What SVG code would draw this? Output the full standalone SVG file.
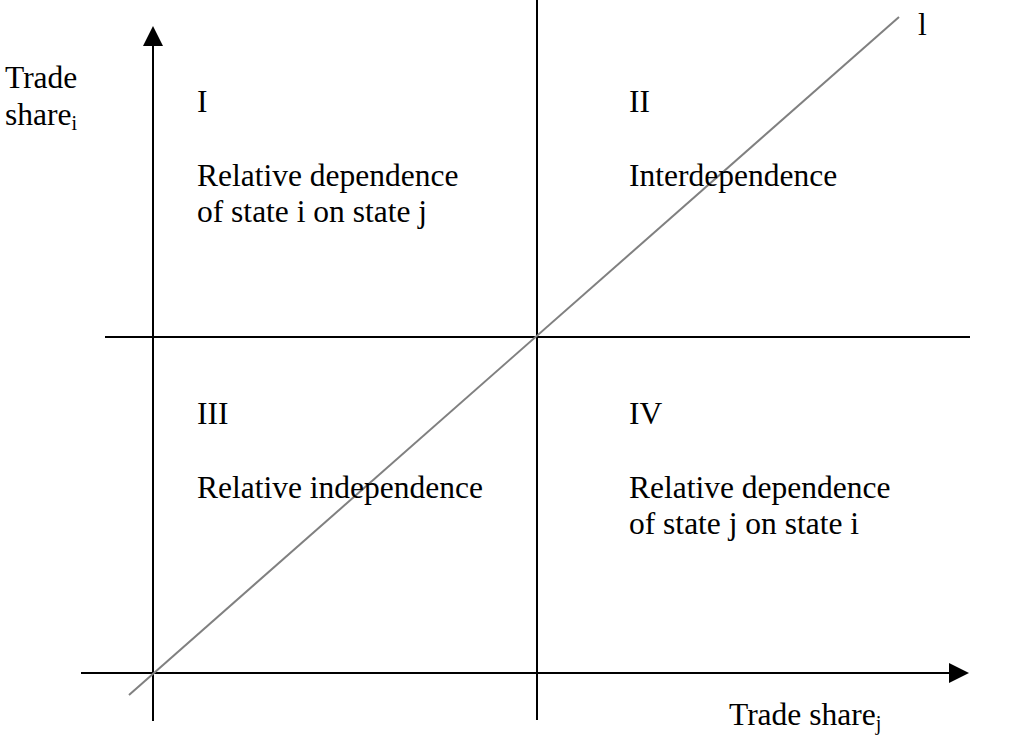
<svg xmlns="http://www.w3.org/2000/svg" width="1016" height="744" viewBox="0 0 1016 744">
  <style>
    text { font-family: "Liberation Serif", "Times New Roman", serif; font-size: 31.5px; fill: #000; }
    .sub { font-size: 20px; }
    .axis { stroke: #000; stroke-width: 2; fill: none; }
    .diag { stroke: #808080; stroke-width: 2; fill: none; }
  </style>
  <defs>
    <marker id="arrow" markerUnits="userSpaceOnUse" markerWidth="20" markerHeight="20" refX="0" refY="10" orient="auto">
      <path d="M0,0 L20,10 L0,20 Z" fill="#000"/>
    </marker>
  </defs>
  <rect width="1016" height="744" fill="#fff"/>
  <g id="connectors">
    <line class="axis" x1="153" y1="721" x2="153" y2="46" marker-end="url(#arrow)"/>
    <line class="axis" x1="81" y1="673" x2="949" y2="673" marker-end="url(#arrow)"/>
    <line class="axis" x1="537" y1="0" x2="537" y2="720"/>
    <line class="axis" x1="105" y1="337" x2="970" y2="337"/>
    <line class="diag" x1="129" y1="695" x2="899" y2="17"/>
  </g>
  <g id="y-label">
    <text x="5" y="88">Trade</text>
    <text x="5" y="125">share<tspan class="sub" dy="5">i</tspan></text>
  </g>
  <g id="x-label">
    <text x="729" y="725">Trade share<tspan class="sub" dy="5">j</tspan></text>
  </g>
  <g id="line-label">
    <text x="918" y="35">l</text>
  </g>
  <g id="quadrant-I">
    <text x="197" y="112">I</text>
    <text x="197" y="186">Relative dependence</text>
    <text x="197" y="222">of state i on state j</text>
  </g>
  <g id="quadrant-II">
    <text x="629" y="112">II</text>
    <text x="629" y="186">Interdependence</text>
  </g>
  <g id="quadrant-III">
    <text x="197" y="424">III</text>
    <text x="197" y="498">Relative independence</text>
  </g>
  <g id="quadrant-IV">
    <text x="629" y="424">IV</text>
    <text x="629" y="498">Relative dependence</text>
    <text x="629" y="534">of state j on state i</text>
  </g>
</svg>
